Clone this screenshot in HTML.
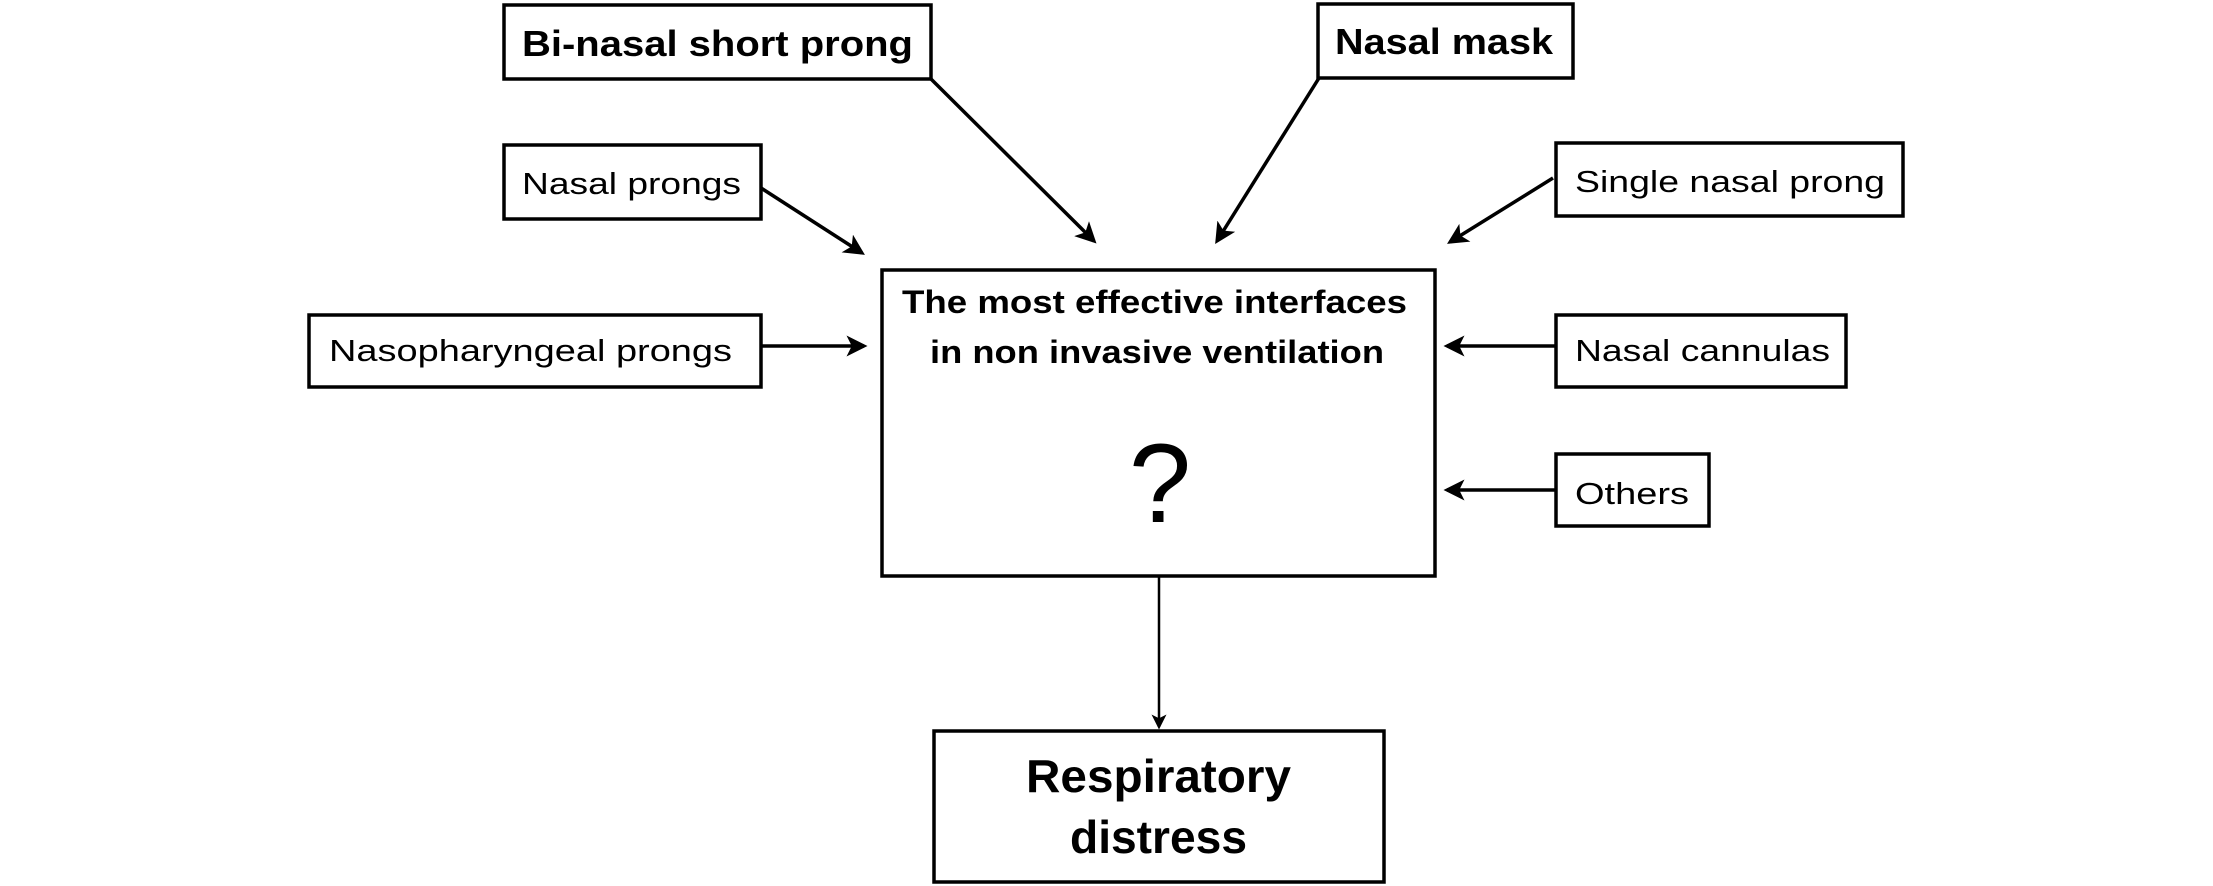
<!DOCTYPE html>
<html><head><meta charset="utf-8"><style>
html,body{margin:0;padding:0;background:#fff;}
svg{display:block;}
text{font-family:"Liberation Sans",sans-serif;fill:#000;}
</style></head><body>
<svg width="2213" height="886" viewBox="0 0 2213 886" xmlns="http://www.w3.org/2000/svg">
<defs>
<marker id="a" markerWidth="6" markerHeight="6" refX="5" refY="3" orient="auto" markerUnits="strokeWidth">
<path d="M0,0 L6,3 L0,6 L1.5,3 Z" fill="#000"/>
</marker>
</defs>
<g fill="#fff" stroke="#000" stroke-width="3.5">
<rect x="504" y="5" width="427" height="74"/>
<rect x="1318" y="4" width="255" height="74"/>
<rect x="504" y="145" width="257" height="74"/>
<rect x="1556" y="143" width="347" height="73"/>
<rect x="882" y="270" width="553" height="306"/>
<rect x="309" y="315" width="452" height="72"/>
<rect x="1556" y="315" width="290" height="72"/>
<rect x="1556" y="454" width="153" height="72"/>
<rect x="934" y="731" width="450" height="151"/>
</g>
<g stroke="#000" stroke-width="3.5" fill="none" marker-end="url(#a)">
<line x1="931" y1="79" x2="1094" y2="241"/>
<line x1="1319" y1="78" x2="1217" y2="241"/>
<line x1="761" y1="188" x2="862" y2="253"/>
<line x1="1553" y1="178" x2="1450" y2="242"/>
<line x1="761" y1="346" x2="864" y2="346"/>
<line x1="1556" y1="346" x2="1447" y2="346"/>
<line x1="1556" y1="490" x2="1447" y2="490"/>
</g>
<line x1="1159" y1="576" x2="1159" y2="727" stroke="#000" stroke-width="2.5" marker-end="url(#a)"/>
<g font-size="36" font-weight="bold">
<text x="522" y="56" textLength="391" lengthAdjust="spacingAndGlyphs">Bi-nasal short prong</text>
<text x="1335" y="54" textLength="218" lengthAdjust="spacingAndGlyphs">Nasal mask</text>
</g>
<g font-size="31">
<text x="522" y="194" textLength="219" lengthAdjust="spacingAndGlyphs">Nasal prongs</text>
<text x="1575" y="192" textLength="310" lengthAdjust="spacingAndGlyphs">Single nasal prong</text>
<text x="329" y="361" textLength="403" lengthAdjust="spacingAndGlyphs">Nasopharyngeal prongs</text>
<text x="1575" y="361" textLength="255" lengthAdjust="spacingAndGlyphs">Nasal cannulas</text>
<text x="1575" y="504" textLength="114" lengthAdjust="spacingAndGlyphs">Others</text>
</g>
<g font-size="32" font-weight="bold">
<text x="902" y="313" textLength="505" lengthAdjust="spacingAndGlyphs">The most effective interfaces</text>
<text x="930" y="363" textLength="454" lengthAdjust="spacingAndGlyphs">in non invasive ventilation</text>
</g>
<text x="1160" y="522" font-size="112" text-anchor="middle">?</text>
<g font-size="46" font-weight="bold">
<text x="1026" y="792" textLength="265" lengthAdjust="spacingAndGlyphs">Respiratory</text>
<text x="1070" y="853" textLength="177" lengthAdjust="spacingAndGlyphs">distress</text>
</g>
</svg>
</body></html>
